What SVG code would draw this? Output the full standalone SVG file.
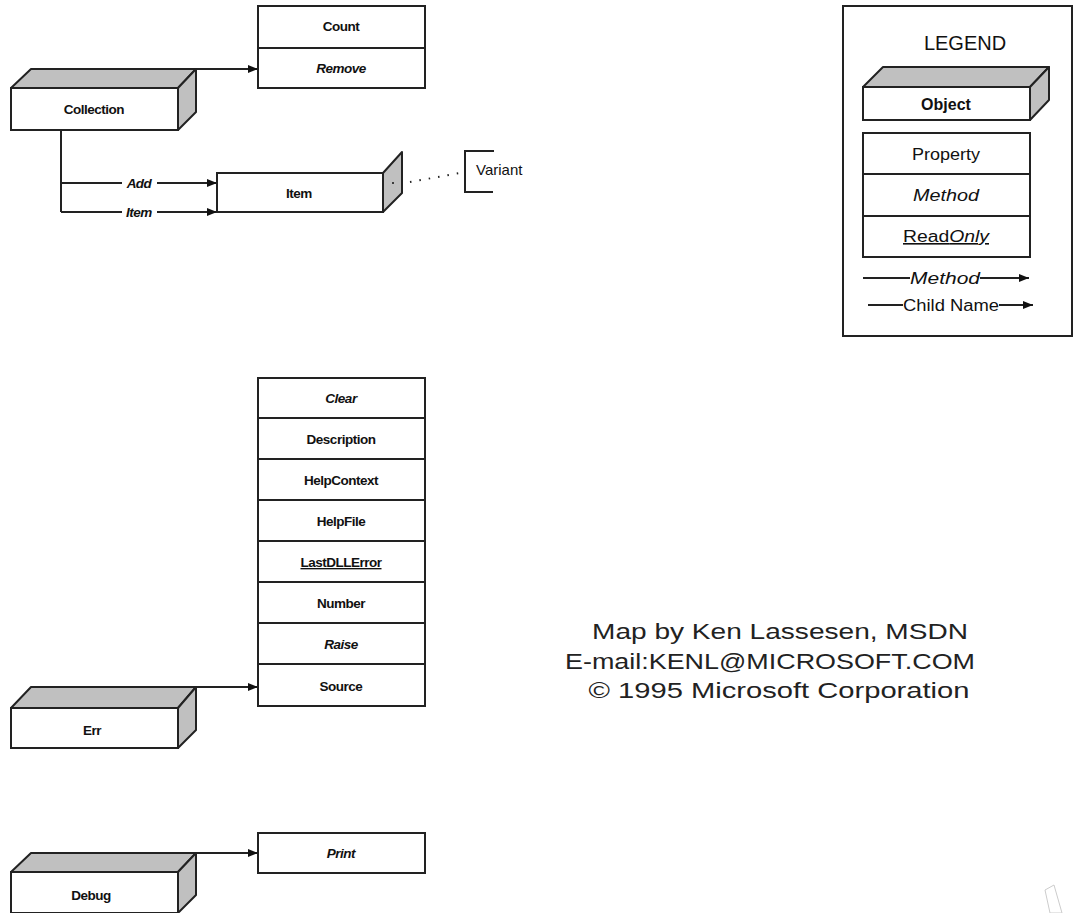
<svg xmlns="http://www.w3.org/2000/svg" width="1074" height="913" viewBox="0 0 1074 913">
<style>
.bx{fill:#fff;stroke:#222;stroke-width:2}
.sd{fill:#c0c0c0;stroke:#222;stroke-width:2;stroke-linejoin:round}
.ln{fill:none;stroke:#222;stroke-width:2}
.t{font-family:"Liberation Sans",Arial,sans-serif;font-size:13.5px;font-weight:bold;fill:#111;text-anchor:middle;letter-spacing:-0.5px}
.i{font-style:italic}
.u{text-decoration:underline}
.lg{font-family:"Liberation Sans",Arial,sans-serif;font-size:16px;fill:#111;text-anchor:middle}
.cr{font-family:"Liberation Sans",Arial,sans-serif;font-size:22px;fill:#222;text-anchor:middle}
</style>
<defs>
<marker id="ah" viewBox="0 0 10 8" refX="10" refY="4" markerWidth="5" markerHeight="4" orient="auto" markerUnits="strokeWidth">
<path d="M0,0 L10,4 L0,8 z" fill="#111"/>
</marker>
</defs>
<rect width="1074" height="913" fill="#fff"/>

<g id="connectors">
<line class="ln" x1="196" y1="69" x2="258" y2="69" marker-end="url(#ah)"/>
<polyline class="ln" points="61,130 61,212"/>
<line class="ln" x1="61" y1="183" x2="122" y2="183"/>
<line class="ln" x1="157" y1="183" x2="217" y2="183" marker-end="url(#ah)"/>
<line class="ln" x1="61" y1="212" x2="122" y2="212"/>
<line class="ln" x1="157" y1="212" x2="217" y2="212" marker-end="url(#ah)"/>
<text class="t i" x="139" y="188">Add</text>
<text class="t i" x="139" y="217">Item</text>
<line x1="410" y1="182" x2="460" y2="173" stroke="#222" stroke-width="2" stroke-dasharray="1.5,8"/>
<line class="ln" x1="196" y1="687" x2="258" y2="687" marker-end="url(#ah)"/>
<line class="ln" x1="196" y1="853" x2="258" y2="853" marker-end="url(#ah)"/>
</g>

<g id="collection">
<polygon class="sd" points="11,88 31,69 196,69 178,88"/>
<polygon class="sd" points="178,88 196,69 196,112 178,130"/>
<rect class="bx" x="11" y="88" width="167" height="42"/>
<text class="t" x="94" y="114">Collection</text>
</g>

<g id="collection-members">
<rect class="bx" x="258" y="6" width="167" height="42"/>
<rect class="bx" x="258" y="48" width="167" height="40"/>
<text class="t" x="341" y="31">Count</text>
<text class="t i" x="341" y="73">Remove</text>
</g>

<g id="item">
<polygon class="sd" points="383,173 402,152 402,193 383,212"/>
<rect class="bx" x="217" y="173" width="166" height="39"/>
<circle cx="393" cy="183" r="1" fill="#111"/>
<text class="t" x="299" y="198">Item</text>
</g>

<g id="variant">
<polyline class="ln" points="494,151 465,151 465,192 493,192"/>
<text x="476" y="175" font-family="'Liberation Sans',Arial,sans-serif" font-size="15" fill="#111">Variant</text>
</g>

<g id="legend">
<rect class="bx" x="843" y="6" width="229" height="330"/>
<text x="965" y="50" font-family="'Liberation Sans',Arial,sans-serif" font-size="20" fill="#111" text-anchor="middle">LEGEND</text>
<polygon class="sd" points="863,87 883,67 1049,67 1030,87"/>
<polygon class="sd" points="1030,87 1049,67 1049,100 1030,120"/>
<rect class="bx" x="863" y="87" width="167" height="33"/>
<text class="lg" x="946" y="110" font-weight="bold" font-size="15">Object</text>
<rect class="bx" x="863" y="133" width="167" height="41"/>
<rect class="bx" x="863" y="174" width="167" height="42"/>
<rect class="bx" x="863" y="216" width="167" height="41"/>
<text class="lg" x="946" y="160" textLength="68" lengthAdjust="spacingAndGlyphs">Property</text>
<text class="lg i" x="946" y="201" textLength="66" lengthAdjust="spacingAndGlyphs">Method</text>
<text class="lg u" x="946" y="242" textLength="86" lengthAdjust="spacingAndGlyphs">Read<tspan font-style="italic">Only</tspan></text>
<line class="ln" x1="863" y1="278" x2="910" y2="278"/>
<text class="lg i" x="945" y="284" textLength="70" lengthAdjust="spacingAndGlyphs">Method</text>
<line class="ln" x1="980" y1="278" x2="1029" y2="278" marker-end="url(#ah)"/>
<line class="ln" x1="868" y1="305" x2="903" y2="305"/>
<text class="lg" x="951" y="311" textLength="96" lengthAdjust="spacingAndGlyphs">Child Name</text>
<line class="ln" x1="999" y1="305" x2="1033" y2="305" marker-end="url(#ah)"/>
</g>

<g id="err-members">
<rect class="bx" x="258" y="378" width="167" height="328"/>
<line class="ln" x1="258" y1="418" x2="425" y2="418"/>
<line class="ln" x1="258" y1="459" x2="425" y2="459"/>
<line class="ln" x1="258" y1="500" x2="425" y2="500"/>
<line class="ln" x1="258" y1="541" x2="425" y2="541"/>
<line class="ln" x1="258" y1="582" x2="425" y2="582"/>
<line class="ln" x1="258" y1="623" x2="425" y2="623"/>
<line class="ln" x1="258" y1="664" x2="425" y2="664"/>
<text class="t i" x="341" y="403">Clear</text>
<text class="t" x="341" y="444">Description</text>
<text class="t" x="341" y="485">HelpContext</text>
<text class="t" x="341" y="526">HelpFile</text>
<text class="t u" x="341" y="567">LastDLLError</text>
<text class="t" x="341" y="608">Number</text>
<text class="t i" x="341" y="649">Raise</text>
<text class="t" x="341" y="691">Source</text>
</g>

<g id="err">
<polygon class="sd" points="11,708 31,687 196,687 178,708"/>
<polygon class="sd" points="178,708 196,687 196,730 178,748"/>
<rect class="bx" x="11" y="708" width="167" height="40"/>
<text class="t" x="92" y="735">Err</text>
</g>

<g id="debug">
<polygon class="sd" points="11,872 31,853 196,853 178,872"/>
<polygon class="sd" points="178,872 196,853 196,895 178,913"/>
<rect class="bx" x="11" y="872" width="167" height="41"/>
<text class="t" x="91" y="900">Debug</text>
</g>

<g id="print">
<rect class="bx" x="258" y="833" width="167" height="40"/>
<text class="t i" x="341" y="858">Print</text>
</g>

<g id="credits">
<text class="cr" x="780" y="639" textLength="376" lengthAdjust="spacingAndGlyphs">Map by Ken Lassesen, MSDN</text>
<text class="cr" x="770" y="669" textLength="410" lengthAdjust="spacingAndGlyphs">E-mail:KENL@MICROSOFT.COM</text>
<text class="cr" x="779" y="698" textLength="381" lengthAdjust="spacingAndGlyphs">© 1995 Microsoft Corporation</text>
</g>

<polygon points="1045,890 1054,885 1062,913 1050,913" fill="none" stroke="#ccc" stroke-width="1"/>
</svg>
